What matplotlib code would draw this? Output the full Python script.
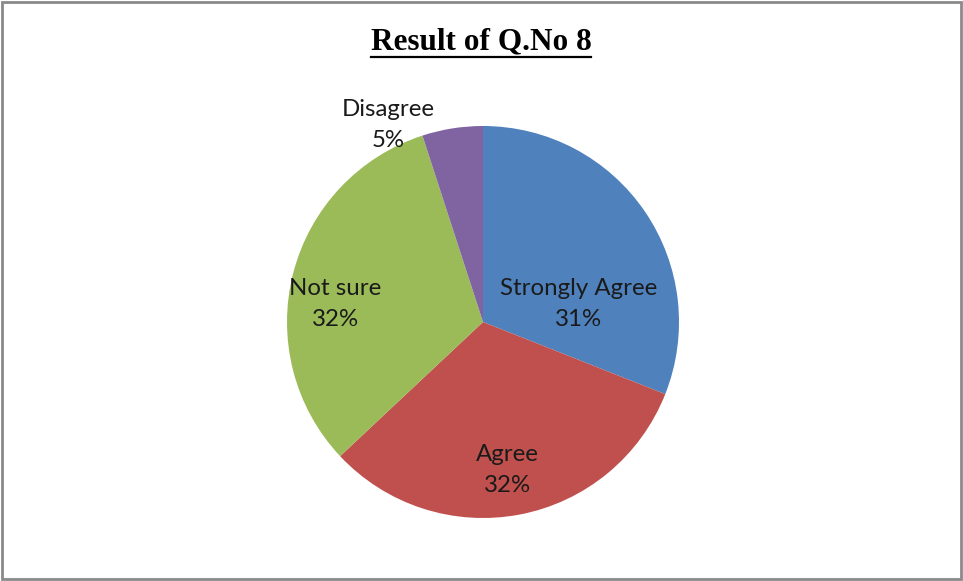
import matplotlib.pyplot as plt
from matplotlib.patches import Rectangle
from matplotlib.lines import Line2D

# Survey answers for question 8
categories = ["Strongly Agree", "Agree", "Not sure", "Disagree"]
shares = [31, 32, 32, 5]
colors = ["#4F81BD", "#C0504D", "#9BBB59", "#8064A2"]

# label centres in pixel space (x right, y down)
label_pos = [(579, 304), (507, 470), (335, 304), (388, 125)]

W, H = 963, 581
fig = plt.figure(figsize=(W / 100, H / 100), dpi=100)
ax = fig.add_axes([0, 0, 1, 1])
ax.set_xlim(0, W)
ax.set_ylim(0, H)
ax.set_aspect("equal")
ax.axis("off")

ax.pie(shares, colors=colors, startangle=90, counterclock=False,
       center=(483, H - 322), radius=196,
       wedgeprops=dict(linewidth=0))
ax.set_xlim(0, W)
ax.set_ylim(0, H)

for name, val, (px, py) in zip(categories, shares, label_pos):
    ax.text(px, H - py, f"{name}\n{val}%", ha="center", va="center",
            fontsize=17.3, family="Lato", color="#1a1a1a", linespacing=1.55)

title = ax.text(481, H - 42, "Result of Q.No 8", ha="center", va="center",
                fontsize=22.5, fontweight="bold", family="Liberation Serif",
                color="black")

# underline the title
fig.canvas.draw()
bb = title.get_window_extent(fig.canvas.get_renderer())
fig.add_artist(Line2D([bb.x0 / W, bb.x1 / W], [(H - 57) / H, (H - 57) / H],
                      transform=fig.transFigure, color="black", linewidth=1.6))

# chart border
fig.add_artist(Rectangle((2 / W, 2 / H), (W - 4) / W, (H - 4) / H,
                         transform=fig.transFigure, fill=False,
                         edgecolor="#8a8a8a", linewidth=2))

fig.savefig("out.png", dpi=100)
